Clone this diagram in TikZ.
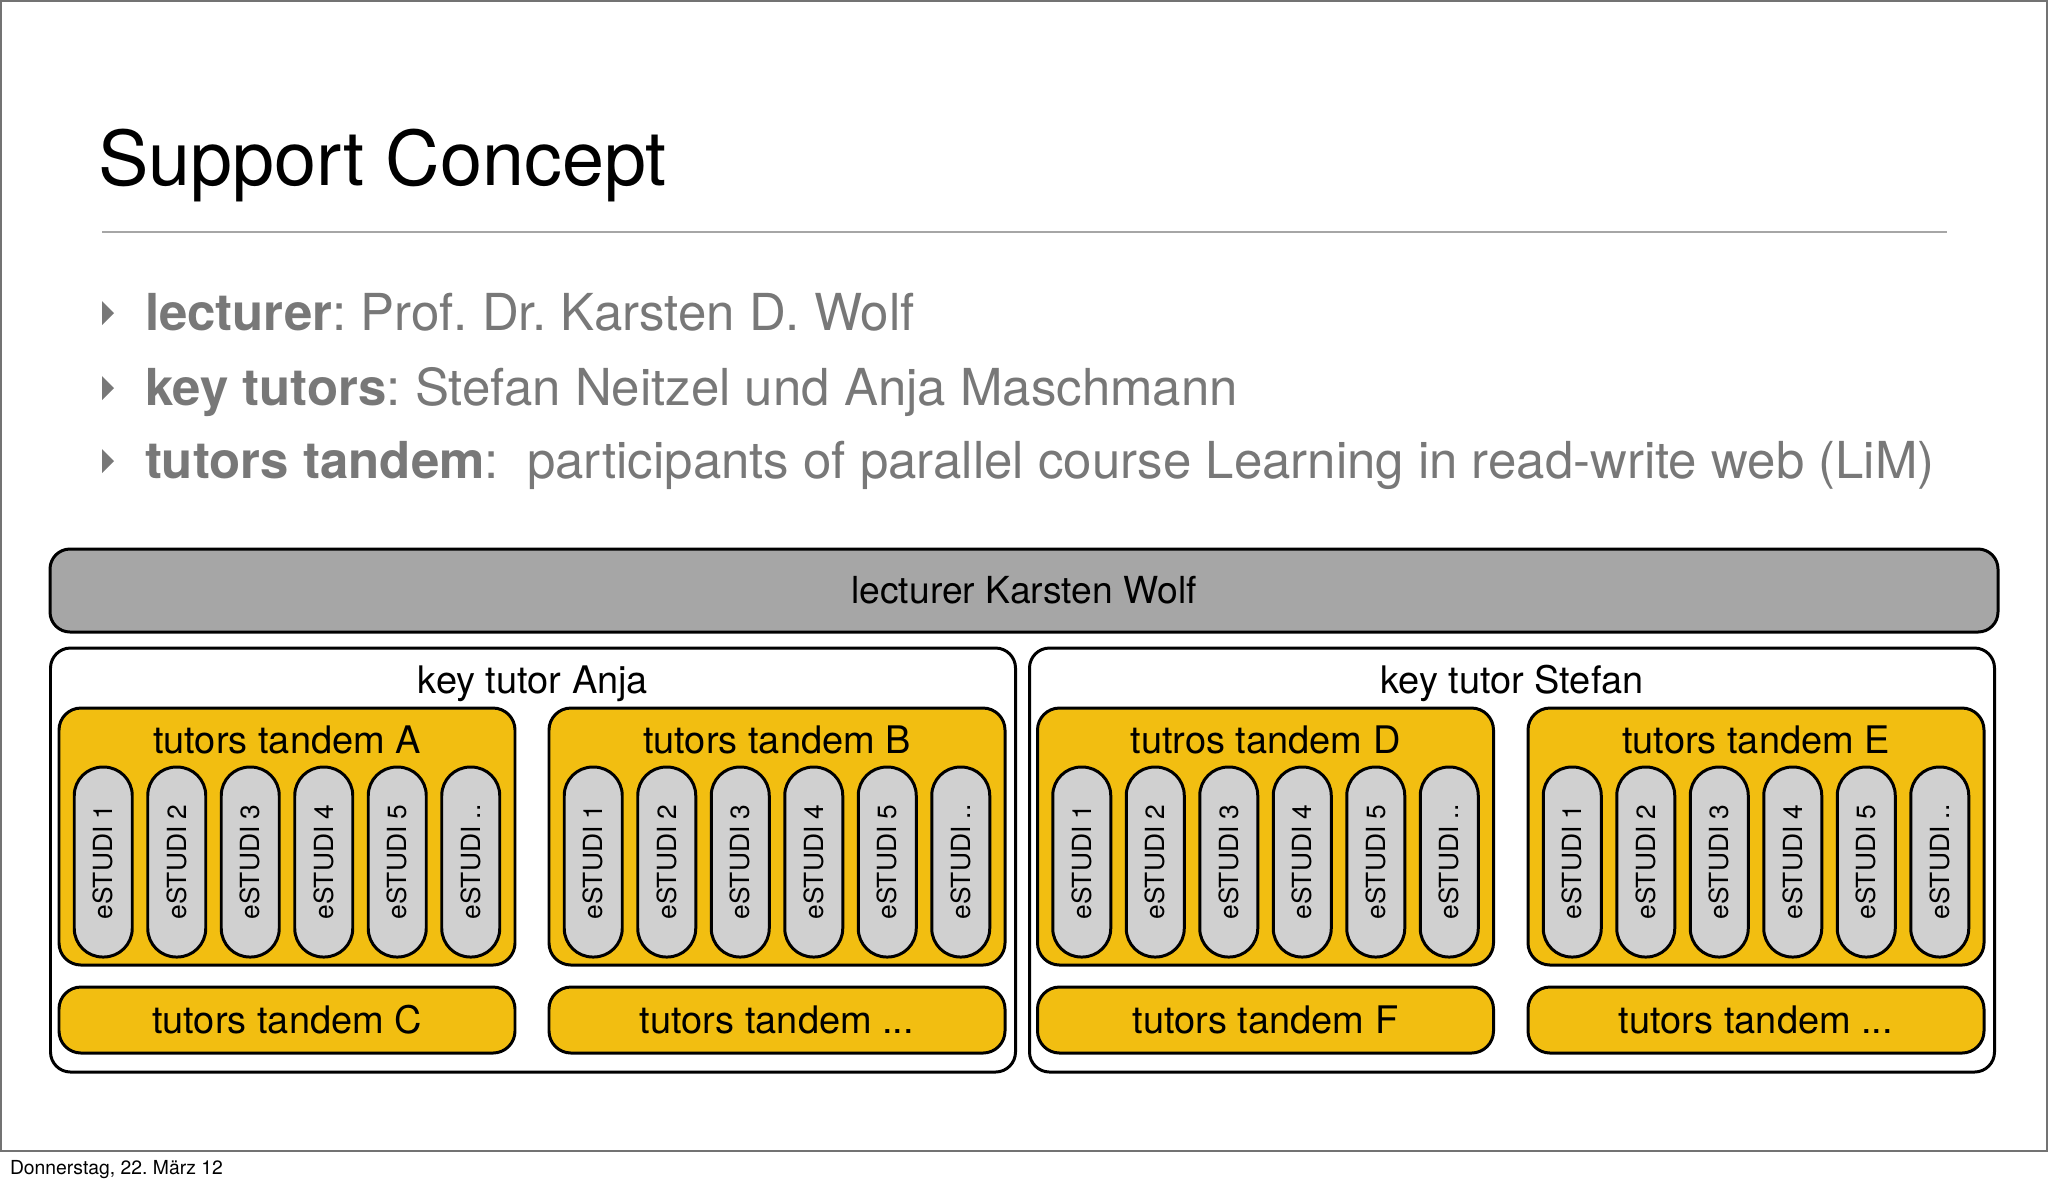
\documentclass[tikz,border=0pt]{standalone}
\usepackage{fontspec}
\setmainfont{TeX Gyre Heros}
\usepackage{xcolor}
\usepackage{tikz}
\usetikzlibrary{positioning}
\definecolor{tandemyellow}{RGB}{242,190,17}
\definecolor{studigrey}{RGB}{208,208,208}
\definecolor{lecgrey}{RGB}{166,166,166}
\definecolor{bulletgrey}{RGB}{120,120,120}
\frenchspacing

\begin{document}
\begin{tikzpicture}[x=0.1mm, y=-0.1mm, every node/.style={inner sep=0pt, outer sep=0pt}, frame/.style={draw=black, line width=0.85pt, rounded corners=2mm}, lecbox/.style={frame, fill=lecgrey, minimum width=194.8mm, minimum height=8.3mm, font=\fontsize{10.6}{12}\selectfont}, keybox/.style={frame, fill=white, minimum width=96.5mm, minimum height=42.4mm}, tandem/.style={frame, fill=tandemyellow, minimum width=45.6mm, minimum height=25.7mm, rounded corners=2.2mm}, tandemlow/.style={tandem, minimum height=6.6mm, font=\fontsize{10.8}{12}\selectfont}, studi/.style={frame, fill=studigrey, rotate=90, minimum width=19mm, minimum height=5.8mm, rounded corners=2.85mm, font=\fontsize{7.5}{8}\selectfont}, lbl/.style={anchor=base, font=\fontsize{10.8}{12}\selectfont}, bul/.style={anchor=base west, text=bulletgrey, font=\fontsize{14.5}{17}\selectfont}]
\useasboundingbox (0,0) rectangle (2048,1184);
\draw[draw=black!55, line width=0.6pt] (1,1) rectangle (2047,1151);
% slide head
\node[anchor=base west, font=\fontsize{21.5}{26}\selectfont] (title) at (98,185) {Support Concept};
\draw[draw=black!35, line width=0.5pt] (102,232) -- (1947,232);
\foreach \y in {330,405,478} \fill[bulletgrey] (102,\y-29) -- (114,\y-17) -- (102,\y-5) -- cycle;
\node[bul] (lecline) at (145,330) {\textbf{lecturer}: Prof. Dr. Karsten D. Wolf};
\node[bul] (keyline) at (145,405) {\textbf{key tutors}: Stefan Neitzel und Anja Maschmann};
\node[bul] (tandemline) at (145,478) {\textbf{tutors tandem}:~ participants of parallel course Learning in read-write web (LiM)};
% hierarchy
\node[lecbox] (lecturer) at (1024,590.5) {lecturer Karsten Wolf};
\node[keybox] (kA) at (533,860) {};
\node[keybox, right=1.4mm of kA] (kS) {};
\node[lbl] (kAlbl) at ([yshift=-4.5mm]kA.north) {key tutor Anja};
\node[lbl] (kSlbl) at ([yshift=-4.5mm]kS.north) {key tutor Stefan};
\node[tandem] (tA) at (287,836.5) {};
\node[tandem, right=3.4mm of tA] (tB) {};
\node[tandem] (tD) at (1265.5,836.5) {};
\node[tandem, right=3.45mm of tD] (tE) {};
\node[lbl] (tAlbl) at ([yshift=-4.5mm]tA.north) {tutors tandem A};
\node[lbl] (tBlbl) at ([yshift=-4.5mm]tB.north) {tutors tandem B};
\node[lbl] (tDlbl) at ([yshift=-4.5mm]tD.north) {tutros tandem D};
\node[lbl] (tElbl) at ([yshift=-4.5mm]tE.north) {tutors tandem E};
\foreach \t in {A,B,D,E}{
  \foreach \i/\s in {1/1,2/2,3/3,4/4,5/5,6/{..}}
    \node[studi] (s\t\i) at ([xshift={(\i-3.5)*7.35mm}, yshift=-2.55mm]t\t.center) {eSTUDI \s};
}
\node[tandemlow, below=2.2mm of tA] (tC) {tutors tandem C};
\node[tandemlow, below=2.2mm of tB] (tAx) {tutors tandem ...};
\node[tandemlow, below=2.2mm of tD] (tF) {tutors tandem F};
\node[tandemlow, below=2.2mm of tE] (tSx) {tutors tandem ...};
% footer
\node[anchor=base west, font=\fontsize{5.5}{6}\selectfont] (date) at (10,1174) {Donnerstag, 22. März 12};
\end{tikzpicture}
\end{document}
